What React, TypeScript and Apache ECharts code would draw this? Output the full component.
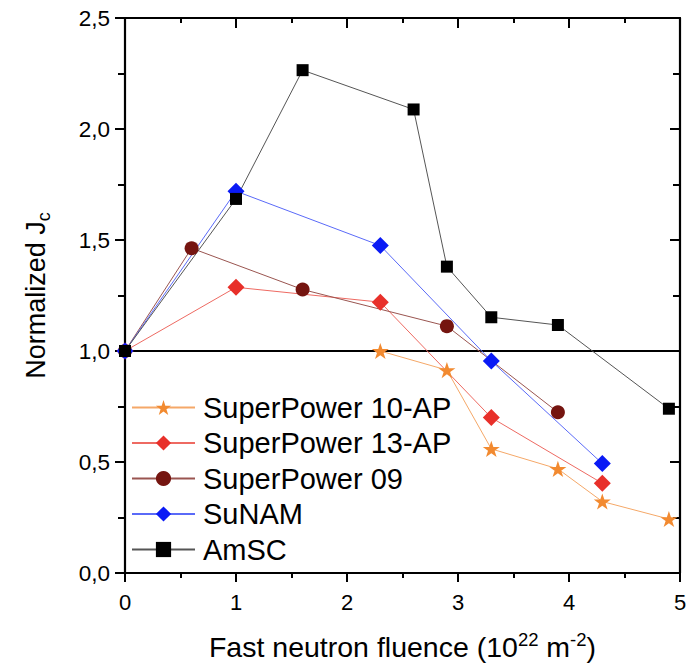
import React, { useEffect, useRef } from "react";
import * as echarts from "echarts";

const seriesNames = ["SuperPower 10-AP", "SuperPower 13-AP", "SuperPower 09", "SuNAM", "AmSC"];

const sp10X = [2.3, 2.9, 3.3, 3.9, 4.3, 4.9];
const sp10Y = [1.0, 0.914, 0.559, 0.469, 0.322, 0.243];

const sp13X = [0, 1, 2.3, 3.3, 4.3];
const sp13Y = [1.0, 1.287, 1.22, 0.70, 0.404];

const sp09X = [0, 0.6, 1.6, 2.9, 3.9];
const sp09Y = [1.0, 1.463, 1.277, 1.112, 0.724];

const sunamX = [0, 1, 2.3, 3.3, 4.3];
const sunamY = [1.0, 1.72, 1.475, 0.955, 0.493];

const amscX = [0, 1, 1.6, 2.6, 2.9, 3.3, 3.9, 4.9];
const amscY = [1.0, 1.685, 2.265, 2.088, 1.38, 1.152, 1.117, 0.74];

const xTicks = [0, 1, 2, 3, 4, 5];
const yTicks = [0, 0.5, 1.0, 1.5, 2.0, 2.5];
const referenceLevel = 1.0;

const STAR = "path://M50,0 L61.8,35.5 L99,35.5 L69,57.5 L80.5,93 L50,71 L19.5,93 L31,57.5 L1,35.5 L38.2,35.5 Z";
const FONT = "'Liberation Sans', Arial, Helvetica, sans-serif";

function pairs(xs: number[], ys: number[]) {
  return xs.map((x, i) => [x, ys[i]]);
}

export default function App() {
  const ref = useRef<HTMLDivElement>(null);
  useEffect(() => {
    document.body.style.margin = "0";
    const chart = echarts.init(ref.current!, null, { renderer: "svg" });
    const mk = (
      name: string,
      xs: number[],
      ys: number[],
      color: string,
      lineColor: string,
      symbol: string,
      size: number,
      extra: any = {}
    ) => ({
      type: "line",
      name,
      data: pairs(xs, ys),
      symbol,
      symbolSize: size,
      symbolKeepAspect: true,
      itemStyle: { color, borderWidth: 0 },
      lineStyle: { color: lineColor, width: 1 },
      ...extra,
    });
    const option: any = {
      animation: false,
      textStyle: { fontFamily: FONT },
      grid: { left: 125, right: 13, top: 18, bottom: 97 },
      legend: {
        orient: "vertical",
        left: 131,
        top: 393,
        padding: 0,
        itemWidth: 63,
        itemHeight: 19,
        itemGap: 6.5,
        data: seriesNames,
        textStyle: { fontSize: 29, color: "#000", fontFamily: FONT, padding: [0, 0, 0, 3] },
      },
      xAxis: [
        {
          type: "value",
          min: xTicks[0],
          max: xTicks[xTicks.length - 1],
          interval: 1,
          position: "bottom",
          name: "Fast neutron fluence (10{sup|22} m{sup|-2})",
          nameLocation: "middle",
          nameGap: 57,
          nameTextStyle: {
            fontSize: 28.5,
            color: "#000",
            fontFamily: FONT,
            lineHeight: 34,
            rich: {
              sup: { fontSize: 18.5, lineHeight: 18, verticalAlign: "top", color: "#000", fontFamily: FONT },
            },
          },
          axisLine: { show: true, onZero: false, lineStyle: { color: "#000", width: 2.2 } },
          axisTick: { show: true, inside: false, length: 9, lineStyle: { color: "#000", width: 2 } },
          minorTick: { show: true, splitNumber: 2, length: 5, lineStyle: { color: "#000", width: 2 } },
          axisLabel: { fontSize: 22, color: "#000", margin: 18, fontFamily: FONT },
          splitLine: { show: false },
        },
        {
          type: "value",
          min: xTicks[0],
          max: xTicks[xTicks.length - 1],
          interval: 1,
          position: "top",
          axisLine: { show: true, onZero: false, lineStyle: { color: "#000", width: 2.2 } },
          axisTick: { show: true, inside: true, length: 10, lineStyle: { color: "#000", width: 2 } },
          minorTick: { show: true, splitNumber: 2, length: 5, lineStyle: { color: "#000", width: 2 } },
          axisLabel: { show: false },
          splitLine: { show: false },
        },
      ],
      yAxis: [
        {
          type: "value",
          min: yTicks[0],
          max: yTicks[yTicks.length - 1],
          interval: 0.5,
          position: "left",
          name: "Normalized J{sub|c}",
          nameLocation: "middle",
          nameGap: 72,
          nameRotate: 90,
          nameTextStyle: {
            fontSize: 27,
            color: "#000",
            fontFamily: FONT,
            lineHeight: 34,
            rich: {
              sub: { fontSize: 18, lineHeight: 18, verticalAlign: "bottom", color: "#000", fontFamily: FONT },
            },
          },
          axisLine: { show: true, onZero: false, lineStyle: { color: "#000", width: 2.2 } },
          axisTick: { show: true, inside: false, length: 10, lineStyle: { color: "#000", width: 2 } },
          minorTick: { show: true, splitNumber: 2, length: 7, lineStyle: { color: "#000", width: 2 } },
          axisLabel: {
            fontSize: 22.5,
            color: "#000",
            margin: 15,
            fontFamily: FONT,
            formatter: (v: number) => v.toFixed(1).replace(".", ","),
          },
          splitLine: { show: false },
        },
        {
          type: "value",
          min: yTicks[0],
          max: yTicks[yTicks.length - 1],
          interval: 0.5,
          position: "right",
          axisLine: { show: true, onZero: false, lineStyle: { color: "#000", width: 2.2 } },
          axisTick: { show: true, inside: true, length: 10, lineStyle: { color: "#000", width: 2 } },
          minorTick: { show: true, splitNumber: 2, length: 7, lineStyle: { color: "#000", width: 2 } },
          axisLabel: { show: false },
          splitLine: { show: false },
        },
      ],
      series: [
        mk(seriesNames[0], sp10X, sp10Y, "#F28A30", "#F5A868", STAR, 17, {
          markLine: {
            silent: true,
            symbol: "none",
            label: { show: false },
            lineStyle: { color: "#000", width: 2.2, type: "solid" },
            data: [{ yAxis: referenceLevel }],
            z: 1,
          },
        }),
        mk(seriesNames[1], sp13X, sp13Y, "#E8302A", "#EE6A62", "diamond", 17),
        mk(seriesNames[2], sp09X, sp09Y, "#751510", "#9A5550", "circle", 14),
        mk(seriesNames[3], sunamX, sunamY, "#0A1AF5", "#5A6AF8", "diamond", 17),
        mk(seriesNames[4], amscX, amscY, "#000000", "#555555", "rect", 12),
      ],
    };
    chart.setOption(option);
    return () => chart.dispose();
  }, []);
  return <div ref={ref} style={{ width: 693, height: 670 }} />;
}
